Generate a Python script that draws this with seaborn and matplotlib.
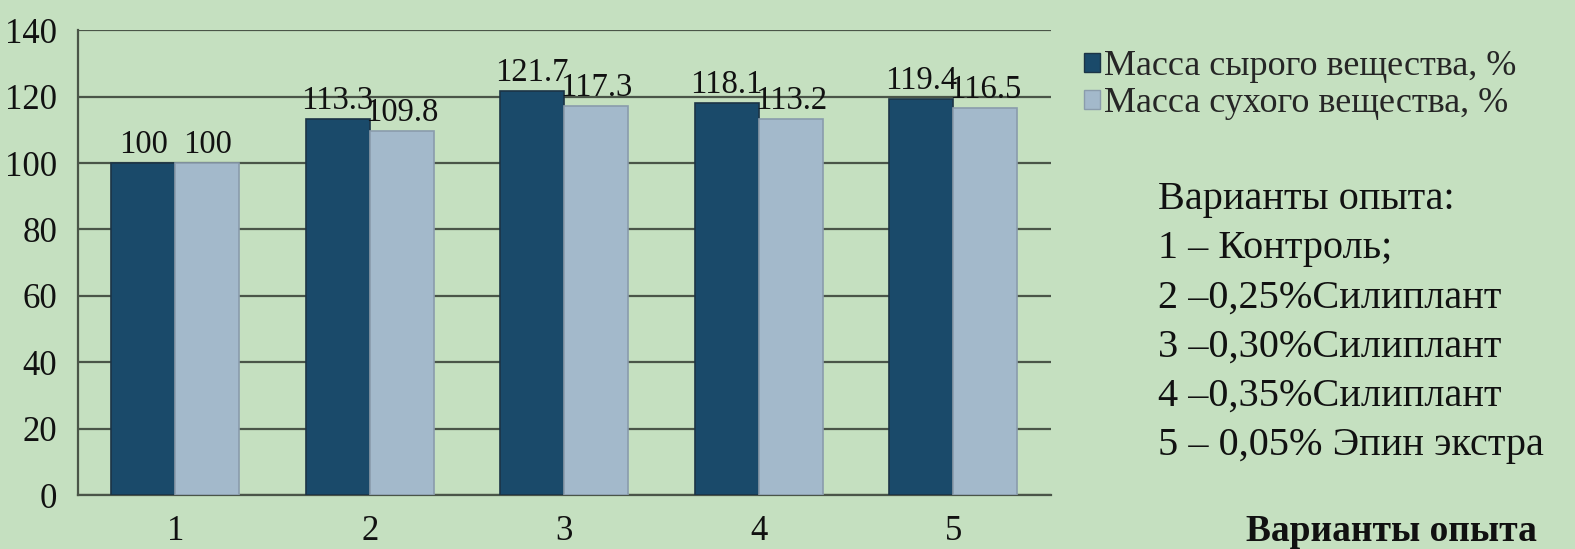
import matplotlib
matplotlib.use("Agg")
import matplotlib.pyplot as plt
import seaborn as sns
import pandas as pd
import numpy as np

# Experiment variants and measured values (% of control)
variants = ["1", "2", "3", "4", "5"]
fresh_mass = [100, 113.3, 121.7, 118.1, 119.4]
dry_mass = [100, 109.8, 117.3, 113.2, 116.5]
series_names = ["Масса сырого вещества, %", "Масса сухого вещества, %"]
y_ticks = [0, 20, 40, 60, 80, 100, 120, 140]
notes_title = "Варианты опыта:"
notes = ["1 – Контроль;",
         "2 –0,25%Силиплант",
         "3 –0,30%Силиплант",
         "4 –0,35%Силиплант",
         "5 – 0,05% Эпин экстра"]
x_title = "Варианты опыта"

bg = "#c5e0c0"
colors = ["#1a4a6a", "#a3b9cb"]
edges = ["#1c3446", "#8a9cac"]
grid_c = "#4a5548"

sns.set_theme(style="white")
plt.rcParams["font.family"] = ["Liberation Serif", "DejaVu Serif"]

df = pd.DataFrame({
    "variant": variants * 2,
    "value": fresh_mass + dry_mass,
    "series": [series_names[0]] * len(variants) + [series_names[1]] * len(variants),
})

fig = plt.figure(figsize=(15.75, 5.49), dpi=100, facecolor=bg)
ax = fig.add_axes([0.0495, 0.098, 0.6175, 0.847])
ax.set_facecolor(bg)

sns.barplot(data=df, x="variant", y="value", hue="series", order=variants,
            hue_order=series_names, palette=colors, saturation=1, width=0.66, ax=ax,
            errorbar=None, legend=True, zorder=3)

for i, container in enumerate(ax.containers):
    for bar in container:
        bar.set_edgecolor(edges[i])
        bar.set_linewidth(1.2)
    ax.bar_label(container, labels=[f"{v:g}" for v in (fresh_mass, dry_mass)[i]],
                 padding=2, fontsize=23.5, color="#111111")

ax.set_ylim(0, 140)
ax.set_xlim(-0.5, 4.5)
ax.set_yticks(y_ticks)
ax.set_yticklabels([str(t) for t in y_ticks], fontsize=25, color="#111111")
ax.yaxis.grid(True, color=grid_c, linewidth=1.6, zorder=0)
ax.set_axisbelow(True)
ax.set_xlabel("")
ax.set_ylabel("")
ax.tick_params(axis="x", which="major", length=0, labelsize=25, colors="#111111", pad=14)
ax.set_xticks(np.arange(-0.5, 5, 1), minor=True)
ax.tick_params(axis="x", which="minor", length=10, width=1.6, color=grid_c, direction="out")
ax.tick_params(axis="y", length=10, width=1.6, color=grid_c, direction="out", pad=5)
for side in ["top", "right"]:
    ax.spines[side].set_visible(False)
for side in ["left", "bottom"]:
    ax.spines[side].set_color(grid_c)
    ax.spines[side].set_linewidth(1.6)

leg = ax.legend(loc="upper left", bbox_to_anchor=(0.679, 0.935), bbox_transform=fig.transFigure,
                frameon=False, fontsize=26, handlelength=0.45, handleheight=0.45,
                handletextpad=0.1, labelspacing=0.12, borderaxespad=0)
for h, e in zip(leg.legend_handles, edges):
    h.set_edgecolor(e)

fig.text(0.735, 0.62, notes_title, fontsize=29, color="#111111", va="baseline")
for k, line in enumerate(notes):
    fig.text(0.735, 0.53 - k * 0.0895, line, fontsize=29, color="#111111", va="baseline")
fig.text(0.791, 0.014, x_title, fontsize=27, fontweight="bold", color="#111111", va="baseline")

fig.savefig("out.png", dpi=100, facecolor=bg)
